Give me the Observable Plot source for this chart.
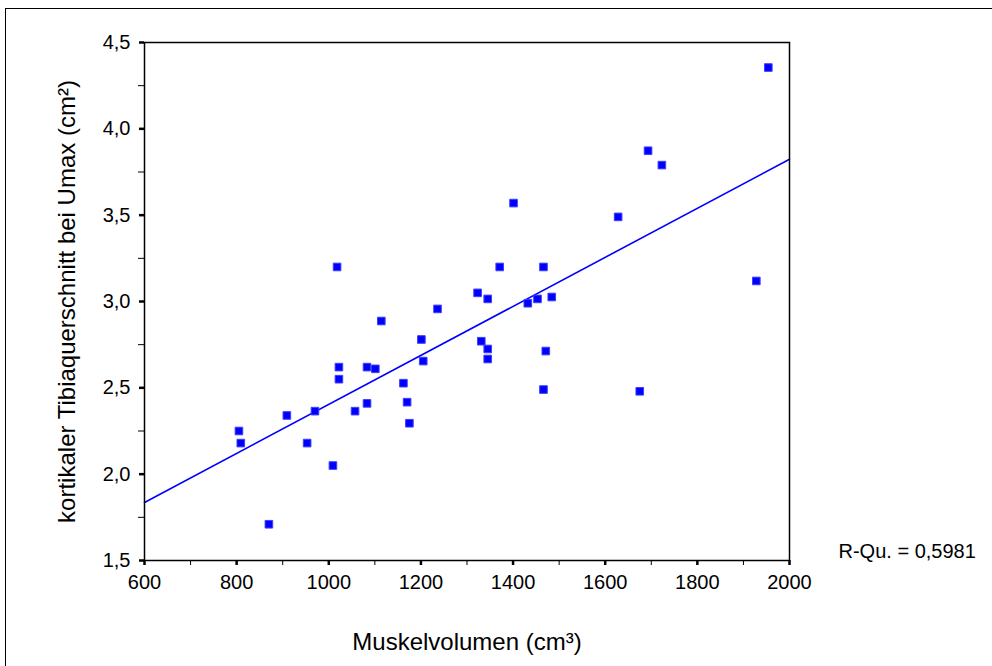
<!DOCTYPE html>
<html><head><meta charset="utf-8">
<script src="https://cdn.jsdelivr.net/npm/d3@7"></script>
<script src="https://cdn.jsdelivr.net/npm/@observablehq/plot@0.6"></script>
<style>
html,body{margin:0;padding:0;background:#fff;overflow:hidden;}
#wrap{position:relative;width:992px;height:666px;overflow:hidden;background:#fff;}
#chart{position:absolute;left:0;top:0;}
#border{position:absolute;left:5px;top:8px;width:1300px;height:1000px;border:1px solid #000;box-sizing:border-box;pointer-events:none;}
</style></head><body>
<div id="wrap"><div id="chart"></div><div id="border"></div></div>
<script>
// Data
const muskelvolumen = [805, 809, 870, 909, 953, 970, 1009, 1018, 1022, 1022, 1057, 1083, 1083, 1101, 1114, 1162, 1170, 1175, 1201, 1205, 1236, 1323, 1331, 1345, 1345, 1345, 1371, 1401, 1432, 1453, 1466, 1471, 1466, 1484, 1628, 1675, 1693, 1723, 1928, 1954];
const tibiaQuerschnitt = [2.25, 2.18, 1.71, 2.34, 2.18, 2.365, 2.05, 3.20, 2.62, 2.55, 2.365, 2.41, 2.62, 2.61, 2.887, 2.527, 2.417, 2.295, 2.78, 2.655, 2.957, 3.05, 2.77, 3.015, 2.725, 2.667, 3.20, 3.57, 2.99, 3.015, 3.20, 2.713, 2.49, 3.026, 3.49, 2.48, 3.873, 3.79, 3.119, 4.355];
const xTicks = [600, 800, 1000, 1200, 1400, 1600, 1800, 2000];
const xMinorTicks = [700, 900, 1100, 1300, 1500, 1700, 1900];
const yTicks = [1.5, 2.0, 2.5, 3.0, 3.5, 4.0, 4.5];
const yMinorTicks = [1.75, 2.25, 2.75, 3.25, 3.75, 4.25];
const xTitle = ["Muskelvolumen (cm³)"];
const yTitle = ["kortikaler Tibiaquerschnitt bei Umax (cm²)"];
const rSquaredLabel = ["R-Qu. = 0,5981"];

const points = muskelvolumen.map((x, i) => ({x, y: tibiaQuerschnitt[i]}));

// least squares fit over the data, drawn across the full x domain
const mx = d3.mean(muskelvolumen), my = d3.mean(tibiaQuerschnitt);
const slope = d3.sum(points, p => (p.x - mx) * (p.y - my)) / d3.sum(points, p => (p.x - mx) ** 2);
const intercept = my - slope * mx;
const fitLine = d3.extent(xTicks).map(x => ({x, y: intercept + slope * x}));

const fmtY = d => d.toFixed(1).replace(".", ",");
const blue = "#0000ff";

const chart = Plot.plot({
  width: 992,
  height: 666,
  marginLeft: 144,
  marginRight: 203,
  marginTop: 42,
  marginBottom: 106,
  style: {fontFamily: "'Liberation Sans', Arial, sans-serif", fontSize: "20px", background: "transparent", color: "#000"},
  x: {domain: [600, 2000], nice: false},
  y: {domain: [1.5, 4.5], nice: false},
  marks: [
    Plot.line(fitLine, {x: "x", y: "y", stroke: blue, strokeWidth: 1.6}),
    Plot.dot(points, {x: "x", y: "y", symbol: "square", r: 4.3, fill: blue, stroke: "#3f3fff", strokeWidth: 1}),
    Plot.frame({stroke: "#000", strokeWidth: 1.5}),
    Plot.axisX(xMinorTicks, {tickSize: 5, tickFormat: () => "", label: null, strokeWidth: 1}),
    Plot.axisX(xTicks, {tickSize: 5, tickPadding: 9, tickFormat: d => String(d), label: null, strokeWidth: 2.5, fontSize: 20}),
    Plot.axisY(yMinorTicks, {tickSize: 6, tickFormat: () => "", label: null, strokeWidth: 1}),
    Plot.axisY(yTicks, {tickSize: 5, tickPadding: 9, tickFormat: fmtY, label: null, strokeWidth: 2.5, fontSize: 20}),
    Plot.text(xTitle, {text: d => d, frameAnchor: "bottom", textAnchor: "middle", lineAnchor: "middle", dy: 82, fontSize: 24}),
    Plot.text(yTitle, {text: d => d, frameAnchor: "left", textAnchor: "middle", lineAnchor: "middle", dx: -77, rotate: -90, fontSize: 24}),
    Plot.text(rSquaredLabel, {text: d => d, frameAnchor: "bottom-right", textAnchor: "start", lineAnchor: "middle", dx: 49, dy: -9, fontSize: 20})
  ]
});
document.getElementById("chart").appendChild(chart);
</script>
</body></html>
